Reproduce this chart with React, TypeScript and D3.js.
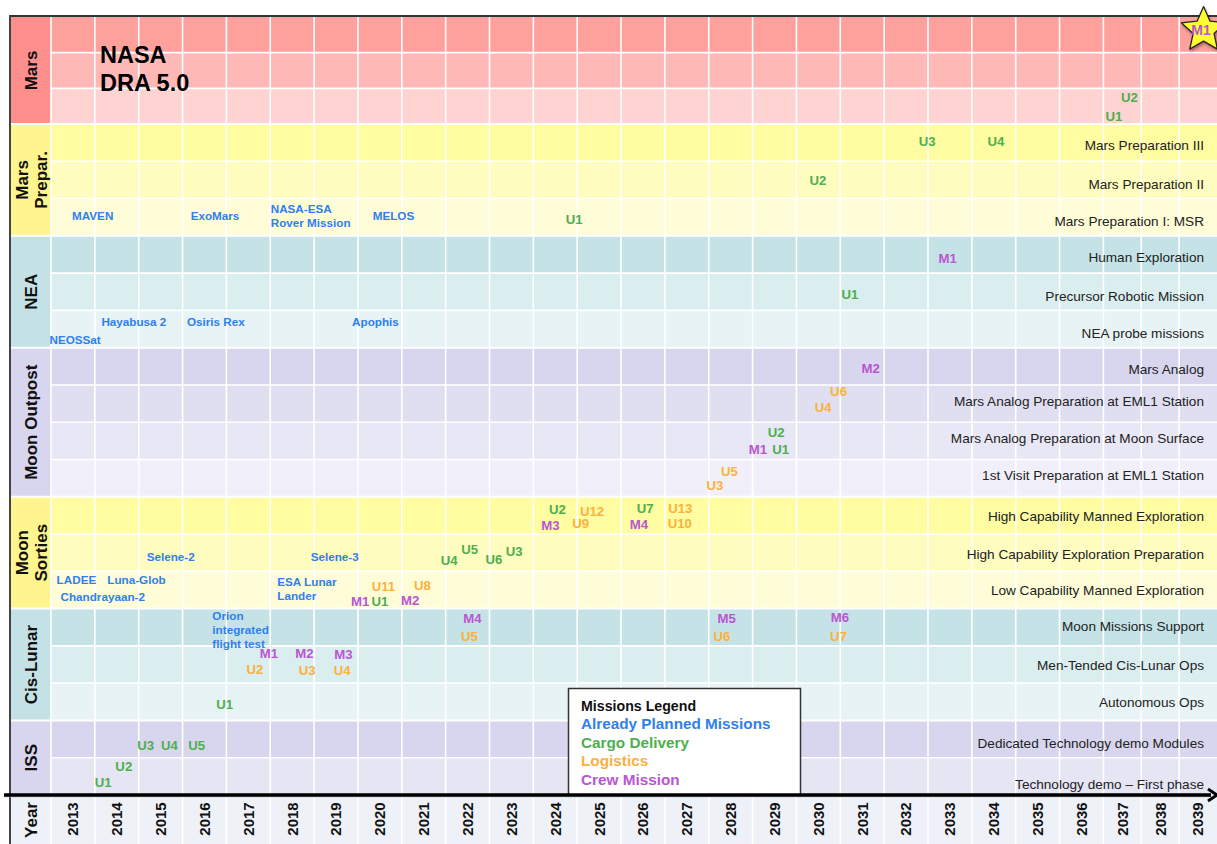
import React from "react";
import * as d3 from "d3";

// ---------- data ----------
const years = [2013, 2014, 2015, 2016, 2017, 2018, 2019, 2020, 2021, 2022, 2023, 2024, 2025, 2026,
  2027, 2028, 2029, 2030, 2031, 2032, 2033, 2034, 2035, 2036, 2037, 2038, 2039];

const sectionNames = [["Mars"], ["Mars", "Prepar."], ["NEA"], ["Moon Outpost"], ["Moon", "Sorties"], ["Cis-Lunar"], ["ISS"]];
const sectionRowCounts = [3, 3, 3, 4, 3, 3, 2];
const sectionLabelColors = ["#FE8F8C", "#FFF58F", "#C4E2E5", "#D8D5EE", "#FFF58F", "#C4E2E5", "#D8D5EE"];
const sectionRowColors = [
  ["#FEA09C", "#FEB9B6", "#FFD3D2"],
  ["#FFFCA2", "#FFFCBF", "#FFFDD7"],
  ["#C5E3E6", "#DAEDEF", "#E7F3F4"],
  ["#D8D6EE", "#E0DFF2", "#E8E7F5", "#F1F0FA"],
  ["#FFFCA2", "#FFFCBF", "#FFFDD7"],
  ["#C5E3E6", "#DAEDEF", "#E7F3F4"],
  ["#D8D6EE", "#E6E5F4"],
];

const rowLabels = [
  "", "", "",
  "Mars Preparation III", "Mars Preparation II", "Mars Preparation I: MSR",
  "Human Exploration", "Precursor Robotic Mission", "NEA probe missions",
  "Mars Analog", "Mars Analog Preparation at EML1 Station", "Mars Analog Preparation at Moon Surface", "1st Visit Preparation at EML1 Station",
  "High Capability Manned Exploration", "High Capability Exploration Preparation", "Low Capability Manned Exploration",
  "Moon Missions Support", "Men-Tended Cis-Lunar Ops", "Autonomous Ops",
  "Dedicated Technology demo Modules", "Technology demo – First phase",
];
const rowLabelPos = [
  0.5, 1.5, 2.5,
  3.563, 4.601, 5.602,
  6.568, 7.608, 8.598,
  9.564, 10.425, 11.431, 12.415,
  13.507, 14.54, 15.5,
  16.461, 17.504, 18.496,
  19.604, 20.704,
];

const plannedMissions = [
  { name: "MAVEN", year: 2013.95, row: 5.46 },
  { name: "ExoMars", year: 2016.74, row: 5.46 },
  { name: "NASA-ESA\nRover Mission", year: 2018.01, row: 5.272, anchor: "start" },
  { name: "MELOS", year: 2020.81, row: 5.46 },
  { name: "Hayabusa 2", year: 2014.89, row: 8.298 },
  { name: "Osiris Rex", year: 2016.76, row: 8.298 },
  { name: "Apophis", year: 2020.4, row: 8.298 },
  { name: "NEOSSat", year: 2013.55, row: 8.78 },
  { name: "Selene-2", year: 2015.73, row: 14.623 },
  { name: "Selene-3", year: 2019.47, row: 14.623 },
  { name: "LADEE", year: 2013.58, row: 15.224 },
  { name: "Luna-Glob", year: 2014.95, row: 15.224 },
  { name: "Chandrayaan-2", year: 2014.18, row: 15.68 },
  { name: "ESA Lunar\nLander", year: 2018.16, row: 15.285, anchor: "start" },
  { name: "Orion\nintegrated\nflight test", year: 2016.68, row: 16.197, anchor: "start" },
];

const cargoDelivery = [
  { name: "U2", year: 2037.69, row: 2.262 },
  { name: "U1", year: 2037.28, row: 2.795 },
  { name: "U3", year: 2032.98, row: 3.469 },
  { name: "U4", year: 2034.55, row: 3.469 },
  { name: "U2", year: 2030.49, row: 4.51 },
  { name: "U1", year: 2024.93, row: 5.548 },
  { name: "U1", year: 2031.22, row: 7.56 },
  { name: "U2", year: 2029.54, row: 11.27 },
  { name: "U1", year: 2029.64, row: 11.726 },
  { name: "U2", year: 2024.55, row: 13.327 },
  { name: "U7", year: 2026.55, row: 13.309 },
  { name: "U4", year: 2022.08, row: 14.695 },
  { name: "U5", year: 2022.55, row: 14.406 },
  { name: "U6", year: 2023.1, row: 14.668 },
  { name: "U3", year: 2023.56, row: 14.449 },
  { name: "U1", year: 2020.5, row: 15.795 },
  { name: "U1", year: 2016.96, row: 18.558 },
  { name: "U3", year: 2015.16, row: 19.676 },
  { name: "U4", year: 2015.7, row: 19.676 },
  { name: "U5", year: 2016.32, row: 19.676 },
  { name: "U2", year: 2014.66, row: 20.24 },
  { name: "U1", year: 2014.19, row: 20.669 },
];

const logistics = [
  { name: "U6", year: 2030.96, row: 10.181 },
  { name: "U4", year: 2030.61, row: 10.61 },
  { name: "U5", year: 2028.47, row: 12.308 },
  { name: "U3", year: 2028.14, row: 12.702 },
  { name: "U12", year: 2025.34, row: 13.376 },
  { name: "U9", year: 2025.08, row: 13.722 },
  { name: "U13", year: 2027.35, row: 13.32 },
  { name: "U10", year: 2027.34, row: 13.722 },
  { name: "U11", year: 2020.58, row: 15.387 },
  { name: "U8", year: 2021.47, row: 15.365 },
  { name: "U2", year: 2017.65, row: 17.638 },
  { name: "U3", year: 2018.84, row: 17.665 },
  { name: "U4", year: 2019.64, row: 17.665 },
  { name: "U5", year: 2022.54, row: 16.729 },
  { name: "U6", year: 2028.3, row: 16.729 },
  { name: "U7", year: 2030.96, row: 16.753 },
];

const crewMissions = [
  { name: "M1", year: 2033.45, row: 6.613 },
  { name: "M2", year: 2031.69, row: 9.564 },
  { name: "M1", year: 2029.12, row: 11.726 },
  { name: "M3", year: 2024.39, row: 13.756 },
  { name: "M4", year: 2026.41, row: 13.738 },
  { name: "M1", year: 2020.05, row: 15.795 },
  { name: "M2", year: 2021.19, row: 15.767 },
  { name: "M1", year: 2017.97, row: 17.198 },
  { name: "M2", year: 2018.78, row: 17.198 },
  { name: "M3", year: 2019.67, row: 17.225 },
  { name: "M4", year: 2022.61, row: 16.251 },
  { name: "M5", year: 2028.41, row: 16.251 },
  { name: "M6", year: 2030.99, row: 16.245 },
];

const marsLanding = { name: "M1", year: 2039.58, row: 0.367 };

const legendTitle = "Missions Legend";
const legendItems = ["Already Planned Missions", "Cargo Delivery", "Logistics", "Crew Mission"];
const legendColors = ["#2F80ED", "#4DAF4E", "#FBB13C", "#BA55D3"];

// ---------- layout ----------
const W = 1217;
const H = 844;
const FONT = "'Liberation Sans', Arial, Helvetica, sans-serif";
const LEFT = 10;
const YEAR_ROW_BOTTOM = H;

const x = d3.scaleLinear().domain([2013, 2037, 2040]).range([51, 1103.4, 1217]);
const y = d3.scaleLinear().domain([0, 3, 21]).range([17, 124, 795]);

const sectionStarts = [0, ...Array.from(d3.cumsum(sectionRowCounts))];
const totalRows = sectionStarts[sectionStarts.length - 1];

function starPath(cx: number, cy: number, R: number, r: number) {
  const pts: [number, number][] = [];
  for (let i = 0; i < 10; i++) {
    const a = -Math.PI / 2 + (i * Math.PI) / 5;
    const rad = i % 2 === 0 ? R : r;
    pts.push([cx + rad * Math.cos(a), cy + rad * Math.sin(a)]);
  }
  return d3.line()(pts) + "Z";
}

function MissionLabels({ data, color, size }: { data: any[]; color: string; size: number }) {
  return (
    <g fill={color} fontWeight="bold" fontSize={size}>
      {data.map((d, i) => {
        const lines = d.name.split("\n");
        const anchor = d.anchor || "middle";
        return (
          <text key={i} x={x(d.year)} y={y(d.row)} dy="0.36em" textAnchor={anchor}>
            {lines.map((l: string, j: number) => (
              <tspan key={j} x={x(d.year)} dy={j === 0 ? "0.36em" : 13.7}>{l}</tspan>
            ))}
          </text>
        );
      })}
    </g>
  );
}

export default function App() {
  const x0 = x.range()[0];
  const xEnd = W;
  const axisY = y(totalRows);
  const starCx = x(marsLanding.year) + 2.5;
  const starCy = y(marsLanding.row);

  return (
    <svg width={W} height={H} style={{ position: "absolute", left: 0, top: 0, fontFamily: FONT }}>
      <defs>
        <filter id="shadow" x="-30%" y="-30%" width="160%" height="160%">
          <feDropShadow dx="1" dy="2" stdDeviation="1.5" floodColor="#000" floodOpacity="0.35" />
        </filter>
      </defs>
      <rect x={0} y={0} width={W} height={H} fill="#fff" />

      {/* row backgrounds */}
      {sectionRowCounts.map((n, s) =>
        d3.range(n).map((k) => {
          const r = sectionStarts[s] + k;
          return (
            <rect key={`r${s}-${k}`} x={x0} y={y(r)} width={xEnd - x0} height={y(r + 1) - y(r)}
              fill={sectionRowColors[s][k]} />
          );
        })
      )}
      {/* section label column */}
      {sectionRowCounts.map((n, s) => (
        <rect key={`s${s}`} x={LEFT} y={y(sectionStarts[s])} width={x0 - LEFT}
          height={y(sectionStarts[s + 1]) - y(sectionStarts[s])} fill={sectionLabelColors[s]} />
      ))}
      {/* year row */}
      <rect x={LEFT} y={axisY} width={xEnd - LEFT} height={YEAR_ROW_BOTTOM - axisY} fill="#EEF1F8" />

      {/* grid lines */}
      <g stroke="#fff" strokeWidth={1.6}>
        {years.map((yr) => (
          <line key={`v${yr}`} x1={x(yr)} x2={x(yr)} y1={y(0)} y2={H} />
        ))}
        {d3.range(1, totalRows).map((r) => {
          const isSection = sectionStarts.includes(r);
          return <line key={`h${r}`} x1={isSection ? LEFT : x0} x2={xEnd} y1={y(r)} y2={y(r)}
            strokeWidth={isSection ? 2 : 1.6} />;
        })}
      </g>

      {/* borders */}
      <line x1={LEFT} x2={W} y1={16} y2={16} stroke="#333" strokeWidth={2} />
      <line x1={LEFT} x2={LEFT} y1={15} y2={H} stroke="#444" strokeWidth={2} />

      {/* section labels */}
      <g fontWeight="bold" fontSize={17} fill="#111">
        {sectionNames.map((lines, s) => {
          const cy = (y(sectionStarts[s]) + y(sectionStarts[s + 1])) / 2;
          const bx = lines.length === 1 ? 37.3 : 28;
          return (
            <text key={s} transform={`translate(${bx},${cy}) rotate(-90)`} textAnchor="middle">
              {lines.map((l, j) => (
                <tspan key={j} x={0} dy={j === 0 ? 0 : 18.5}>{l}</tspan>
              ))}
            </text>
          );
        })}
        <text transform={`translate(37.3,${(axisY + H) / 2 + 0.5}) rotate(-90)`} textAnchor="middle">Year</text>
      </g>

      {/* year tick labels */}
      <g fontWeight="bold" fontSize={15} fill="#111">
        {years.map((yr) => (
          <text key={yr} transform={`translate(${x(yr + 0.5) + 5.4},${819}) rotate(-90)`} textAnchor="middle">{yr}</text>
        ))}
      </g>

      {/* row labels */}
      <g fontSize={13.6} fill="#222" textAnchor="end">
        {rowLabels.map((l, i) => l ? (
          <text key={i} x={1204} y={y(rowLabelPos[i])} dy="0.36em">{l}</text>
        ) : null)}
      </g>

      {/* title */}
      <text x={100} y={62.5} fontWeight="bold" fontSize={23.5} fill="#000">NASA</text>
      <text x={100} y={90.5} fontWeight="bold" fontSize={23.5} fill="#000">DRA 5.0</text>

      {/* mission labels */}
      <MissionLabels data={plannedMissions} color={legendColors[0]} size={11.7} />
      <MissionLabels data={cargoDelivery} color={legendColors[1]} size={13.2} />
      <MissionLabels data={logistics} color={legendColors[2]} size={13.2} />
      <MissionLabels data={crewMissions} color={legendColors[3]} size={13.2} />

      {/* Mars landing star */}
      <path d={starPath(starCx, starCy, 23.5, 11)} fill="#FFFF33" stroke="#222" strokeWidth={1.3}
        strokeLinejoin="round" filter="url(#shadow)" />
      <text x={x(marsLanding.year)} y={starCy} dy="0.36em" textAnchor="middle" fontWeight="bold"
        fontSize={14} fill={legendColors[3]}>{marsLanding.name}</text>

      {/* legend */}
      <g>
        <rect x={568.5} y={688.5} width={232} height={axisY - 688.5} fill="#fff" stroke="#333" strokeWidth={1.5} />
        <text x={581} y={711} fontWeight="bold" fontSize={14.2} fill="#111">{legendTitle}</text>
        {legendItems.map((t, i) => (
          <text key={t} x={581} y={729 + i * 18.5} fontWeight="bold" fontSize={15.3} fill={legendColors[i]}>{t}</text>
        ))}
      </g>

      {/* time axis */}
      <line x1={4} x2={W - 6} y1={axisY + 1.5} y2={axisY + 1.5} stroke="#bbb" strokeWidth={2} opacity={0.6} />
      <line x1={4} x2={W - 6} y1={axisY} y2={axisY} stroke="#000" strokeWidth={3.5} />
      <path d={d3.line()([[W - 9, axisY - 6], [W, axisY], [W - 9, axisY + 6]]) || ""} fill="none" stroke="#000" strokeWidth={3} />
    </svg>
  );
}
